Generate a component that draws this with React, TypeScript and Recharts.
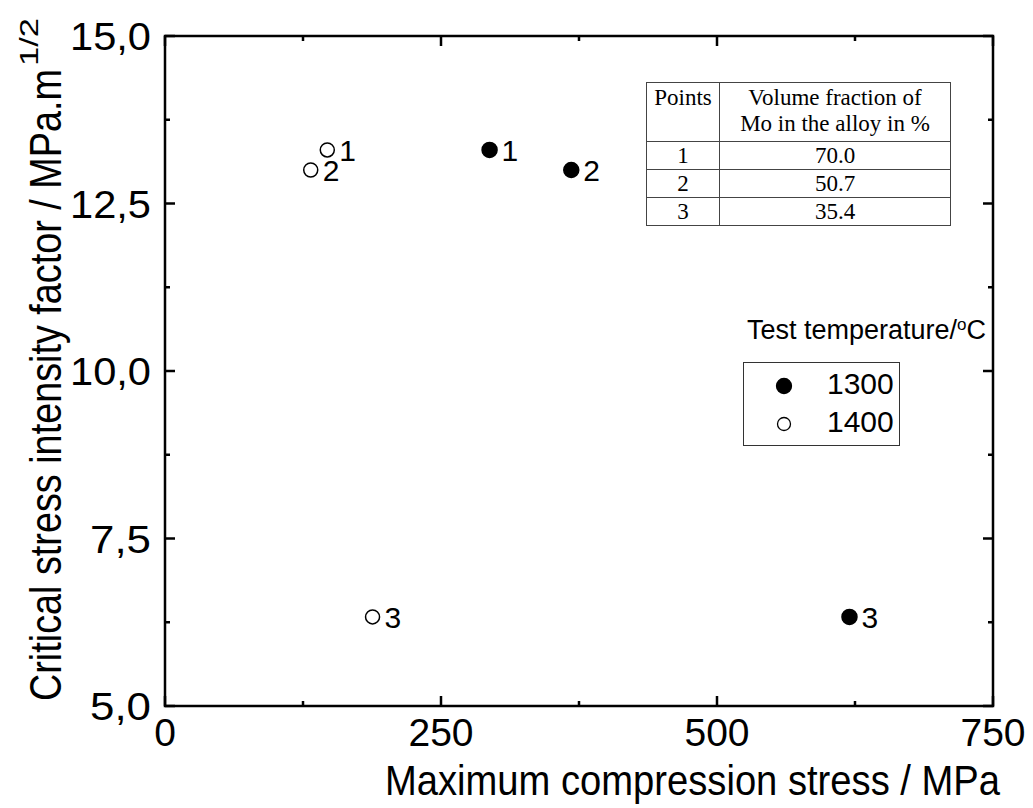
import React from "react";
import { ScatterChart, Scatter, XAxis, YAxis, ReferenceArea, Legend } from "recharts";

// axis ticks (majors get labels, the rest are minor ticks)
const xTicks = [0, 125, 250, 375, 500, 625, 750];
const xMajor = [0, 250, 500, 750];
const yTicks = [5, 6.25, 7.5, 8.75, 10, 11.25, 12.5, 13.75, 15];
const yMajor = [5, 7.5, 10, 12.5, 15];

// points 1..3, test temperature 1300 / 1400 °C
const pointLabels = ["1", "2", "3"];
const stress1300 = [294, 368, 620];
const kic1300 = [13.3, 13.0, 6.33];
const stress1400 = [147, 132, 188];
const kic1400 = [13.3, 13.0, 6.33];

// inset table
const moFraction = ["70.0", "50.7", "35.4"];

const data1300 = pointLabels.map((label, i) => ({ x: stress1300[i], y: kic1300[i], label }));
const data1400 = pointLabels.map((label, i) => ({ x: stress1400[i], y: kic1400[i], label }));

const W = 1033;
const H = 808;
const PLOT = { left: 165, top: 36, right: 993, bottom: 706 };
const SANS = '"Liberation Sans", Arial, sans-serif';

const renderXTick = (props: any) => {
  const { x, payload } = props;
  const v = payload.value;
  const major = xMajor.includes(v);
  const len = major ? 10 : 5;
  return (
    <g>
      <line x1={x} x2={x} y1={PLOT.bottom} y2={PLOT.bottom - len} stroke="#000" strokeWidth={2.5} />
      <line x1={x} x2={x} y1={PLOT.top} y2={PLOT.top + len} stroke="#000" strokeWidth={2.5} />
      {major && (
        <text x={x} y={PLOT.bottom + 40} textAnchor="middle" fontSize={39} fontFamily={SANS} fill="#000">
          {v}
        </text>
      )}
    </g>
  );
};

const renderYTick = (props: any) => {
  const { y, payload } = props;
  const v = payload.value;
  const major = yMajor.includes(v);
  const len = major ? 10 : 5;
  const txt = v.toFixed(1).replace(".", ",");
  return (
    <g>
      <line x1={PLOT.left} x2={PLOT.left + len} y1={y} y2={y} stroke="#000" strokeWidth={2.5} />
      <line x1={PLOT.right} x2={PLOT.right - len} y1={y} y2={y} stroke="#000" strokeWidth={2.5} />
      {major && (
        <text
          x={151}
          y={y + 14}
          textAnchor="end"
          fontSize={38}
          fontFamily={SANS}
          fill="#000"
          textLength={txt.length === 4 ? 81 : 61}
          lengthAdjust="spacingAndGlyphs"
        >
          {txt}
        </text>
      )}
    </g>
  );
};

const pointShape = (filled: boolean) => (props: any) => {
  const { cx, cy, payload } = props;
  return (
    <g>
      <circle cx={cx} cy={cy} r={filled ? 7.5 : 7} fill={filled ? "#000" : "#fff"} stroke="#000" strokeWidth={1.5} />
      <text x={cx + 12} y={cy + 11} fontSize={30} fontFamily={SANS} fill="#000">
        {payload.label}
      </text>
    </g>
  );
};

const yLabel = () => (
  <g>
    <text
      x={61}
      y={701}
      transform="rotate(-90 61 701)"
      fontSize={44}
      fontFamily={SANS}
      fill="#000"
      textLength={632}
      lengthAdjust="spacingAndGlyphs"
    >
      Critical stress intensity factor / MPa.m
    </text>
    <text
      x={38}
      y={66}
      transform="rotate(-90 38 66)"
      fontSize={26}
      fontFamily={SANS}
      fill="#000"
      textLength={48}
      lengthAdjust="spacingAndGlyphs"
    >
      1/2
    </text>
  </g>
);

const xLabel = () => (
  <text
    x={385}
    y={795}
    fontSize={43}
    fontFamily={SANS}
    fill="#000"
    textLength={615}
    lengthAdjust="spacingAndGlyphs"
  >
    Maximum compression stress / MPa
  </text>
);

const renderLegend = (props: any) => {
  const items = props.payload || [];
  return (
    <div style={{ position: "relative", width: 280, height: 140, fontFamily: SANS }}>
      <div style={{ position: "absolute", left: 17, top: 5, fontSize: 27, whiteSpace: "nowrap" }}>
        Test temperature/<sup style={{ fontSize: 17, verticalAlign: "9px" }}>o</sup>C
      </div>
      <div
        style={{
          position: "absolute",
          left: 13,
          top: 52,
          width: 155,
          height: 82,
          border: "1px solid #333",
        }}
      >
        {items.map((it: any, i: number) => (
          <div key={it.value} style={{ position: "absolute", left: 0, top: 5 + i * 38, height: 32, width: 155 }}>
            <svg width={40} height={32} style={{ position: "absolute", left: 20, top: 0 }}>
              <circle
                cx={20}
                cy={18}
                r={i === 0 ? 7.5 : 6.5}
                fill={i === 0 ? "#000" : "#fff"}
                stroke="#000"
                strokeWidth={1.3}
              />
            </svg>
            <span style={{ position: "absolute", left: 83, top: 0, fontSize: 30, lineHeight: "32px" }}>{it.value}</span>
          </div>
        ))}
      </div>
    </div>
  );
};

const cell: React.CSSProperties = {
  border: "1px solid #444",
  padding: 0,
  textAlign: "center",
  height: 27,
  lineHeight: "27px",
};

const App: React.FC = () => {
  return (
    <div style={{ position: "absolute", left: 0, top: 0, width: W, height: H, background: "#fff" }}>
      <ScatterChart
        width={W}
        height={H}
        margin={{ top: PLOT.top, right: W - PLOT.right, left: 0, bottom: 0 }}
      >
        <XAxis
          type="number"
          dataKey="x"
          domain={[0, 750]}
          ticks={xTicks}
          interval={0}
          tickLine={false}
          axisLine={false}
          tick={renderXTick}
          height={H - PLOT.bottom}
          label={{ content: xLabel }}
        />
        <YAxis
          type="number"
          dataKey="y"
          domain={[5, 15]}
          ticks={yTicks}
          interval={0}
          tickLine={false}
          axisLine={false}
          tick={renderYTick}
          width={PLOT.left}
          label={{ content: yLabel }}
        />
        <ReferenceArea x1={0} x2={750} y1={5} y2={15} fill="none" fillOpacity={0} stroke="#000" strokeWidth={2.5} />
        <Scatter name="1300" data={data1300} fill="#000" shape={pointShape(true)} isAnimationActive={false} />
        <Scatter name="1400" data={data1400} fill="#fff" shape={pointShape(false)} isAnimationActive={false} />
        <Legend
          layout="horizontal"
          verticalAlign="middle"
          align="center"
          content={renderLegend}
          wrapperStyle={{ position: "absolute", left: 730, top: 310, width: 280, height: 140 }}
        />
      </ScatterChart>
      <div style={{ position: "absolute", left: 646, top: 82, width: 305 }}>
        <table
          style={{
            borderCollapse: "collapse",
            width: 305,
            fontFamily: '"Liberation Serif", "Times New Roman", serif',
            fontSize: 23,
            background: "#fff",
          }}
        >
          <tbody>
            <tr>
              <td style={{ ...cell, width: 72, height: 56, verticalAlign: "top", lineHeight: "26px", paddingTop: 2 }}>
                Points
              </td>
              <td style={{ ...cell, height: 56, verticalAlign: "top", lineHeight: "26px", paddingTop: 2 }}>
                Volume fraction of
                <br />
                Mo in the alloy in %
              </td>
            </tr>
            {pointLabels.map((p, i) => (
              <tr key={p}>
                <td style={cell}>{p}</td>
                <td style={cell}>{moFraction[i]}</td>
              </tr>
            ))}
          </tbody>
        </table>
      </div>
    </div>
  );
};

export default App;
